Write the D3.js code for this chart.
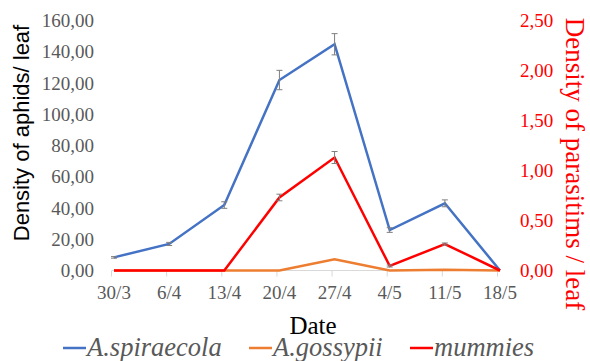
<!DOCTYPE html>
<html><head><meta charset="utf-8">
<script src="https://cdn.jsdelivr.net/npm/d3@7"></script>
<style>html,body{margin:0;padding:0;background:#fff;}svg{display:block;}
.serif{font-family:"Liberation Serif","Times New Roman","DejaVu Serif",serif;}
.sans{font-family:"Liberation Sans",Arial,"DejaVu Sans",sans-serif;}
</style>
</head><body>
<svg id="chart" width="590" height="361"></svg>
<script>
const dates = ["30/3","6/4","13/4","20/4","27/4","4/5","11/5","18/5"];
const spiraecola = [8.4, 17.0, 41.9, 121.9, 144.8, 25.9, 43.0, 0];
const spiraecolaErr = [0.5, 1.0, 2.1, 6.2, 6.8, 1.5, 2.2, 0];
const gossypii = [0, 0, 0, 0, 7.2, 0, 0.5, 0];
const gossypiiErr = [0, 0, 0, 0, 0, 0, 0, 0];
const mummies = [0, 0, 0, 0.73, 1.13, 0.045, 0.265, 0];
const mummiesErr = [0, 0, 0, 0.033, 0.06, 0.01, 0.01, 0];
const leftTicks = [0,20,40,60,80,100,120,140,160];
const rightTicks = [0,0.5,1,1.5,2,2.5];

const svg = d3.select("#chart");
const x = d3.scalePoint().domain(dates).range([114, 500]);
const yL = d3.scaleLinear().domain([0,160]).range([270.5, 20.5]);
const yR = d3.scaleLinear().domain([0,2.5]).range([270.5, 20.5]);
const fmt2 = v => d3.format(".2f")(v).replace(".", ",");

// x axis
const xAxis = svg.append("g").attr("transform","translate(0,270.5)");
xAxis.append("line").attr("x1", x(dates[0])-2).attr("x2", x(dates[dates.length-1])).attr("y1",0).attr("y2",0)
  .attr("stroke","#d9d9d9").attr("stroke-width",1);
dates.forEach(d => {
  xAxis.append("line").attr("x1", x(d)-2.5).attr("x2", x(d)-2.5).attr("y1",0).attr("y2",6)
    .attr("stroke","#d9d9d9").attr("stroke-width",1);
  xAxis.append("text").attr("class","serif").attr("x", x(d)).attr("y", 28.5).attr("text-anchor","middle")
    .attr("font-size",19).attr("fill","#595959").text(d);
});

// left axis labels
svg.append("g").selectAll("text").data(leftTicks).enter().append("text").attr("class","serif")
  .attr("x", 94).attr("y", d => yL(d)+6.5).attr("text-anchor","end")
  .attr("font-size",19).attr("fill","#595959").text(fmt2);

// right axis labels
svg.append("g").selectAll("text").data(rightTicks).enter().append("text").attr("class","serif")
  .attr("x", 520).attr("y", d => yR(d)+6.5).attr("text-anchor","start")
  .attr("font-size",19).attr("fill","#ff0000").text(fmt2);

// titles
svg.append("text").attr("class","sans").attr("transform","translate(29,133) rotate(-90)").attr("text-anchor","middle")
  .attr("font-size",22).attr("fill","#000").text("Density of aphids/ leaf");
svg.append("text").attr("class","serif").attr("transform","translate(566,164) rotate(90)").attr("text-anchor","middle")
  .attr("font-size",27).attr("fill","#ff0000").text("Density of parasitims / leaf");
svg.append("text").attr("class","serif").attr("x",313).attr("y",334).attr("text-anchor","middle")
  .attr("font-size",25).attr("fill","#000").text("Date");

// series
const series = [
  {name:"A.spiraecola", vals:spiraecola, err:spiraecolaErr, y:yL, color:"#4472c4"},
  {name:"A.gossypii", vals:gossypii, err:gossypiiErr, y:yL, color:"#ed7d31"},
  {name:"mummies", vals:mummies, err:mummiesErr, y:yR, color:"#ff0000"}
];
const plotOrder = [series[1], series[0], series[2]];
plotOrder.forEach(s => {
  const line = d3.line().x((v,i)=>x(dates[i])).y(v=>s.y(v));
  svg.append("path").attr("d", line(s.vals)).attr("fill","none")
    .attr("stroke", s.color).attr("stroke-width",2.5).attr("stroke-linejoin","miter");
});
// error bars
series.forEach(s => {
  s.vals.forEach((v,i) => {
    const e = s.err[i]; if (!e) return;
    const cx = x(dates[i]);
    const g = svg.append("g").attr("stroke","#7f7f7f").attr("stroke-width",1);
    g.append("line").attr("x1",cx).attr("x2",cx).attr("y1",s.y(v+e)).attr("y2",s.y(v-e));
    g.append("line").attr("x1",cx-3).attr("x2",cx+3).attr("y1",s.y(v+e)).attr("y2",s.y(v+e));
    g.append("line").attr("x1",cx-3).attr("x2",cx+3).attr("y1",s.y(v-e)).attr("y2",s.y(v-e));
  });
});

// legend
const legendX = [63, 249, 410];
series.forEach((s,i) => {
  const g = svg.append("g").attr("transform",`translate(${legendX[i]},348)`);
  g.append("line").attr("x1",0).attr("x2",23).attr("y1",0).attr("y2",0).attr("stroke",s.color).attr("stroke-width",2.5);
  g.append("text").attr("class","serif").attr("x",24).attr("y",7.5).attr("font-style","italic")
    .attr("font-size",26.5).attr("fill","#595959").text(s.name);
});
</script>
</body></html>
